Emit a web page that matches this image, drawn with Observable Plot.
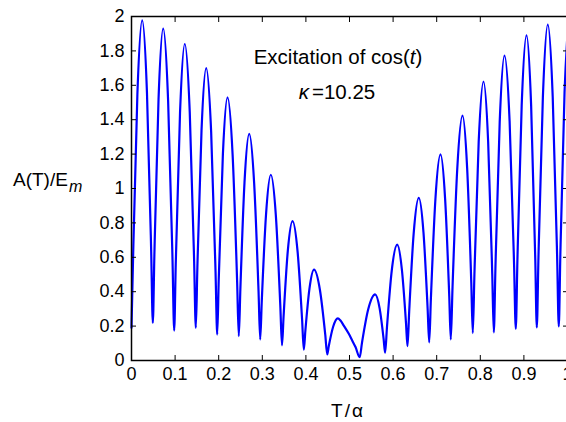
<!DOCTYPE html>
<html><head><meta charset="utf-8">
<script src="https://cdn.jsdelivr.net/npm/d3@7"></script>
<script src="https://cdn.jsdelivr.net/npm/@observablehq/plot@0.6"></script>
<style>
html,body{margin:0;padding:0;background:#fff;}
#chart{position:relative;width:566px;height:422px;overflow:hidden;}
</style></head><body><div id="chart"></div>
<script>
// T/alpha values
const T = [
  0, 0.0037, 0.0135, 0.0245, 0.0355, 0.0452,
  0.0489, 0.0525, 0.0620, 0.0727, 0.0840, 0.0941,
  0.0979, 0.1015, 0.1113, 0.1222, 0.1336, 0.1437,
  0.1475, 0.1511, 0.1606, 0.1713, 0.1827, 0.1928,
  0.1966, 0.2001, 0.2096, 0.2202, 0.2319, 0.2422,
  0.2461, 0.2497, 0.2592, 0.2700, 0.2813, 0.2914,
  0.2952, 0.2988, 0.3086, 0.3195, 0.3311, 0.3413,
  0.3452, 0.3488, 0.3585, 0.3693, 0.3810, 0.3913,
  0.3952, 0.3987, 0.4081, 0.4186, 0.4322, 0.4444,
  0.4489, 0.4525, 0.4623, 0.4732, 0.4794, 0.4869, 0.4984, 0.5062, 0.5138,
  0.5234, 0.5287, 0.5428, 0.5587, 0.5691, 0.5783,
  0.5817, 0.5859, 0.5969, 0.6094, 0.6200, 0.6295,
  0.6330, 0.6369, 0.6472, 0.6589, 0.6697, 0.6792,
  0.6828, 0.6867, 0.6970, 0.7087, 0.7193, 0.7288,
  0.7323, 0.7363, 0.7471, 0.7592, 0.7698, 0.7793,
  0.7828, 0.7865, 0.7963, 0.8073, 0.8180, 0.8274,
  0.8310, 0.8347, 0.8445, 0.8555, 0.8672, 0.8775,
  0.8814, 0.8851, 0.8949, 0.9060, 0.9166, 0.9261,
  0.9296, 0.9334, 0.9435, 0.9548, 0.9661, 0.9762,
  0.9800, 0.9836, 0.9932, 1.0
];
// A(T)/E_m values
const A = [
  0.19, 0.606, 1.548, 1.977, 1.555, 0.629,
  0.219, 0.618, 1.519, 1.93, 1.509, 0.583,
  0.174, 0.562, 1.440, 1.84, 1.444, 0.574,
  0.19, 0.542, 1.338, 1.70, 1.328, 0.512,
  0.151, 0.472, 1.199, 1.53, 1.197, 0.465,
  0.141, 0.415, 1.036, 1.318, 1.031, 0.401,
  0.122, 0.345, 0.850, 1.08, 0.842, 0.319,
  0.088, 0.256, 0.637, 0.81, 0.631, 0.237,
  0.063, 0.171, 0.416, 0.528, 0.410, 0.150,
  0.035, 0.084, 0.195, 0.245, 0.232, 0.203, 0.155, 0.116, 0.078,
  0.019, 0.104, 0.296, 0.384, 0.303, 0.124,
  0.045, 0.192, 0.523, 0.674, 0.532, 0.221,
  0.083, 0.284, 0.739, 0.946, 0.744, 0.301,
  0.105, 0.360, 0.936, 1.198, 0.940, 0.373,
  0.122, 0.425, 1.112, 1.424, 1.120, 0.454,
  0.159, 0.500, 1.271, 1.622, 1.272, 0.503,
  0.163, 0.538, 1.387, 1.773, 1.392, 0.554,
  0.184, 0.581, 1.481, 1.89, 1.482, 0.588,
  0.192, 0.602, 1.530, 1.953, 1.532, 0.607,
  0.198, 0.615, 1.558, 1.90
];
const xTicks = [0, 0.1, 0.2, 0.3, 0.4, 0.5, 0.6, 0.7, 0.8, 0.9, 1];
const yTicks = [0, 0.2, 0.4, 0.6, 0.8, 1, 1.2, 1.4, 1.6, 1.8, 2];
const titleLine = "Excitation of cos(";
const titleVar = "t";
const kappaSym = "κ";
const kappaVal = "=10.25";
const yLabel = "A(T)/E";
const yLabelSub = "m";
const xLabel = "T/α";

const data = T.map((t, i) => ({t, a: A[i]}));
const font = "'Liberation Sans', Arial, Helvetica, sans-serif";

const svg = Plot.plot({
  width: 566, height: 422,
  marginLeft: 131, marginRight: -1, marginTop: 16, marginBottom: 62,
  style: {fontFamily: font, fontSize: "18px", color: "black", background: "white"},
  x: {domain: [0, 1]},
  y: {domain: [0, 2]},
  marks: [
    Plot.line(data, {x: "t", y: "a", stroke: "#0000ff", strokeWidth: 2.2, curve: "monotone-x"}),
    Plot.axisX(xTicks, {anchor: "bottom", tickSize: -5, tickPadding: 12, tickFormat: d => String(d), label: null, strokeWidth: 1}),
    Plot.axisX(xTicks, {anchor: "top", tickSize: -5, tickFormat: () => "", label: null, strokeWidth: 1}),
    Plot.axisY(yTicks, {anchor: "left", tickSize: -5, tickPadding: 12, tickFormat: d => String(d), label: null, strokeWidth: 1}),
    Plot.axisY(yTicks, {anchor: "right", tickSize: -5, tickFormat: () => "", label: null, strokeWidth: 1}),
    Plot.frame({stroke: "black", strokeWidth: 1.5})
  ]
});
document.getElementById("chart").appendChild(svg);

const s = d3.select(svg);
const t1 = s.append("text").attr("x", 338).attr("y", 64).attr("text-anchor", "middle")
  .attr("font-size", 20.5).attr("font-family", font).attr("fill", "black");
t1.append("tspan").text(titleLine);
t1.append("tspan").attr("font-style", "italic").text(titleVar);
t1.append("tspan").text(")");

const t2 = s.append("text").attr("x", 337).attr("y", 99).attr("text-anchor", "middle")
  .attr("font-size", 20.5).attr("font-family", font).attr("fill", "black");
t2.append("tspan").attr("font-style", "italic").text(kappaSym);
t2.append("tspan").attr("dx", 3).text(kappaVal);

const t3 = s.append("text").attr("x", 13).attr("y", 186).attr("text-anchor", "start")
  .attr("font-size", 19).attr("font-family", font).attr("fill", "black");
t3.append("tspan").text(yLabel);
t3.append("tspan").attr("dy", 6).attr("dx", 1).attr("font-style", "italic").attr("font-size", 16).text(yLabelSub);

s.append("text").attr("x", 348).attr("y", 417).attr("text-anchor", "middle")
  .attr("font-size", 19).attr("letter-spacing", 2).attr("font-family", font).attr("fill", "black").text(xLabel);
</script>
</body></html>
